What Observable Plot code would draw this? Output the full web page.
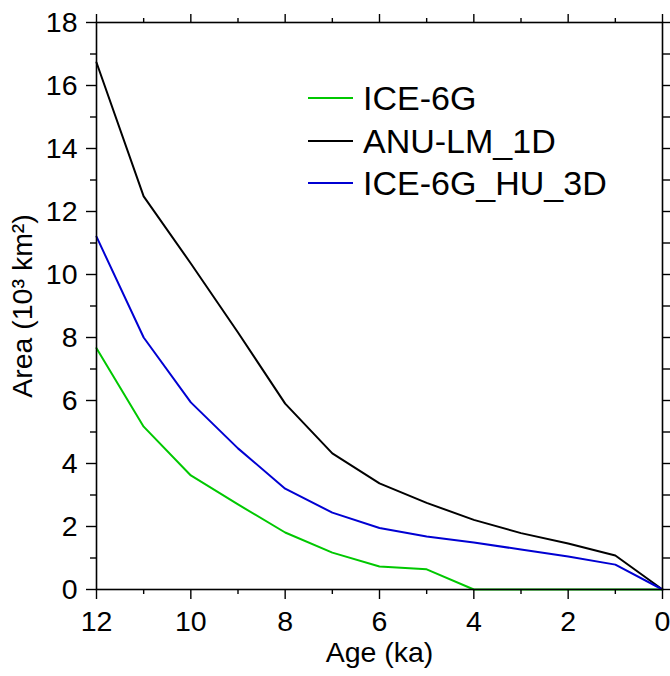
<!DOCTYPE html>
<html>
<head>
<meta charset="utf-8">
<script src="https://cdn.jsdelivr.net/npm/d3@7"></script>
<script src="https://cdn.jsdelivr.net/npm/@observablehq/plot@0.6"></script>
<style>
  html, body { margin: 0; padding: 0; background: #fff; }
  #wrap { position: relative; width: 670px; height: 676px; font-family: "Liberation Sans", Arial, sans-serif; }
  #legend { position: absolute; left: 308px; top: 77px; }
  .item { display: flex; align-items: center; height: 42.5px; }
  .swatch { width: 45px; height: 0; border-top: 2px solid; margin-right: 10px; }
  .lab { font-size: 34px; color: #000; line-height: 1; }
</style>
</head>
<body>
<div id="wrap"></div>
<script>
const ages = [12, 11, 10, 9, 8, 7, 6, 5, 4, 3, 2, 1, 0];
const ice6g = [7.66, 5.17, 3.62, 2.7, 1.81, 1.17, 0.73, 0.64, 0, 0, 0, 0, 0];
const anuLm1d = [16.73, 12.48, 10.35, 8.16, 5.9, 4.32, 3.37, 2.75, 2.21, 1.79, 1.46, 1.08, 0];
const ice6gHu3d = [11.2, 8.0, 5.94, 4.48, 3.2, 2.44, 1.95, 1.68, 1.49, 1.27, 1.05, 0.79, 0];

const seriesNames = ["ICE-6G", "ANU-LM_1D", "ICE-6G_HU_3D"];
const seriesColors = ["#00c800", "#000000", "#0000d2"];
const seriesValues = [ice6g, anuLm1d, ice6gHu3d];

const xMajor = [12, 10, 8, 6, 4, 2, 0];
const xMinor = [11, 9, 7, 5, 3, 1];
const yMajor = [0, 2, 4, 6, 8, 10, 12, 14, 16, 18];
const yMinor = [1, 3, 5, 7, 9, 11, 13, 15, 17];

const rows = [];
seriesNames.forEach((name, i) => {
  ages.forEach((a, j) => rows.push({series: name, age: a, area: seriesValues[i][j]}));
});

const blank = () => "";
const tw = 1.4;
const fs = 28.5;

const chart = Plot.plot({
  width: 670,
  height: 676,
  marginLeft: 96,
  marginRight: 8,
  marginTop: 22,
  marginBottom: 87,
  style: {fontFamily: "'Liberation Sans', Arial, sans-serif", fontSize: fs + "px", background: "#fff", color: "#000", overflow: "visible"},
  x: {domain: [12, 0]},
  y: {domain: [0, 18]},
  color: {domain: seriesNames, range: seriesColors},
  marks: [
    Plot.line(rows, {x: "age", y: "area", z: "series", stroke: "series", strokeWidth: 2}),
    Plot.frame({stroke: "#000", strokeWidth: 1.6}),
    Plot.axisX(xMajor, {anchor: "bottom", tickSize: 10, tickPadding: 11, fontSize: fs, strokeWidth: tw,
      label: "Age (ka)", labelAnchor: "center", labelOffset: 72, labelArrow: "none"}),
    Plot.axisX(xMinor, {anchor: "bottom", tickSize: 5, tickFormat: blank, label: null, strokeWidth: tw}),
    Plot.axisX(xMajor, {anchor: "top", tickSize: 9, tickFormat: blank, label: null, strokeWidth: tw}),
    Plot.axisX(xMinor, {anchor: "top", tickSize: 5, tickFormat: blank, label: null, strokeWidth: tw}),
    Plot.axisY(yMajor, {anchor: "left", tickSize: 10, tickPadding: 9, fontSize: fs, strokeWidth: tw,
      label: "Area (10³ km²)", labelAnchor: "center", labelOffset: 85, labelArrow: "none"}),
    Plot.axisY(yMinor, {anchor: "left", tickSize: 6, tickFormat: blank, label: null, strokeWidth: tw}),
    Plot.axisY(yMajor, {anchor: "right", tickSize: 9, tickFormat: blank, label: null, strokeWidth: tw}),
    Plot.axisY(yMinor, {anchor: "right", tickSize: 9, tickFormat: blank, label: null, strokeWidth: tw})
  ]
});

const wrap = document.getElementById("wrap");
wrap.appendChild(chart);

const legend = document.createElement("div");
legend.id = "legend";
seriesNames.forEach((name, i) => {
  const item = document.createElement("div");
  item.className = "item";
  const sw = document.createElement("div");
  sw.className = "swatch";
  sw.style.borderTopColor = seriesColors[i];
  const lab = document.createElement("span");
  lab.className = "lab";
  lab.textContent = name;
  item.appendChild(sw);
  item.appendChild(lab);
  legend.appendChild(item);
});
wrap.appendChild(legend);

// force a synchronous style/layout pass so the text sizes are applied before capture
chart.querySelectorAll("text").forEach(t => { getComputedStyle(t).fontSize; t.getBoundingClientRect(); });
</script>
</body>
</html>
